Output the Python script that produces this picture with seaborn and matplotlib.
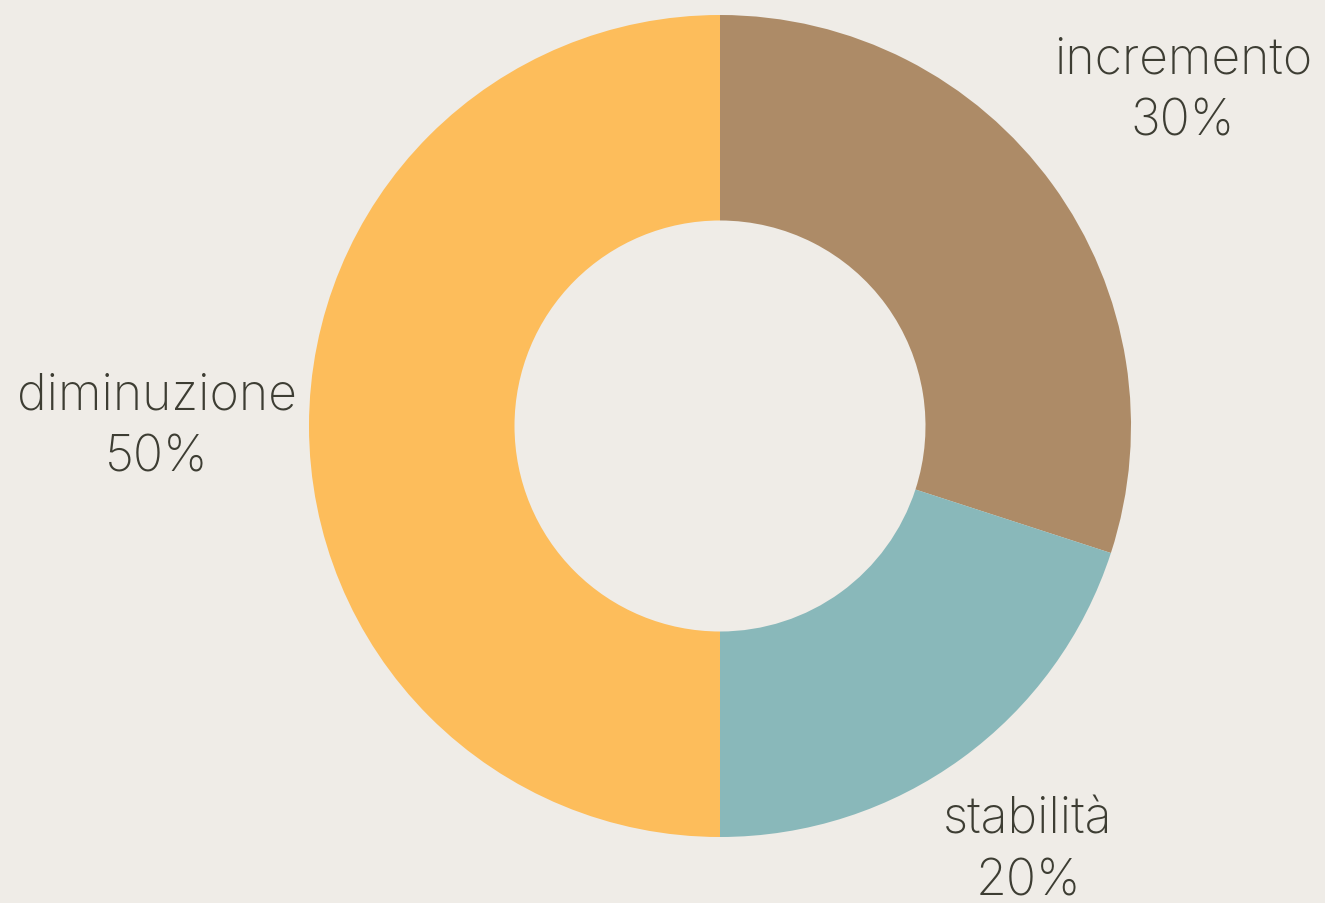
import numpy as np
import matplotlib
matplotlib.use("Agg")
import matplotlib.pyplot as plt
import seaborn as sns

categories = ["incremento", "stabilità", "diminuzione"]
values = [30, 20, 50]
colors = ["#AD8B67", "#89B8BA", "#FDBD5B"]

sns.set_theme(style="white")
plt.rcParams['font.family'] = ['Inter', 'DejaVu Sans']

bg = "#EFECE7"
fig = plt.figure(figsize=(13.25, 9.04), dpi=100, facecolor=bg)
ax = fig.add_axes([0, 0, 1, 1])
ax.set_facecolor(bg)

cx, cy, R = 720, 477, 411
wedges, _ = ax.pie(values, colors=colors, startangle=90, counterclock=False,
                   radius=R, center=(cx, cy),
                   wedgeprops=dict(width=R * 0.5, linewidth=0))
ax.set_xlim(0, 1325)
ax.set_ylim(0, 904)
ax.set_aspect('equal')
ax.axis('off')

dists = [572, 524, 563]
for w, cat, v, d in zip(wedges, categories, values, dists):
    ang = np.deg2rad((w.theta1 + w.theta2) / 2)
    x = cx + d * np.cos(ang)
    y = cy + d * np.sin(ang)
    ax.text(x, y, f"{cat}\n{v}%", ha="center", va="center", fontsize=36,
            fontweight="light", color="#3D3D33", linespacing=1.42)

fig.savefig("out.png", dpi=100, facecolor=bg)
